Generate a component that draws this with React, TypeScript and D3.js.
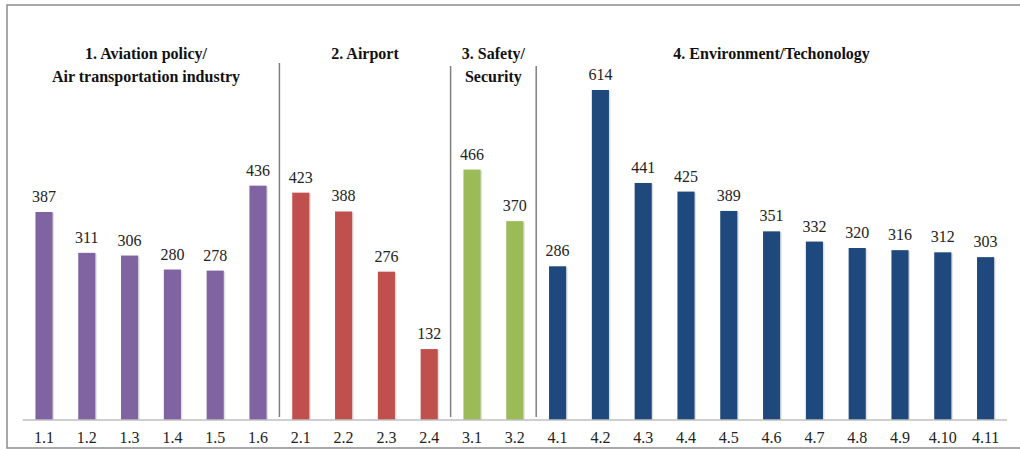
import React from "react";
import * as d3 from "d3";

const categories = [
  "1.1", "1.2", "1.3", "1.4", "1.5", "1.6",
  "2.1", "2.2", "2.3", "2.4",
  "3.1", "3.2",
  "4.1", "4.2", "4.3", "4.4", "4.5", "4.6", "4.7", "4.8", "4.9", "4.10", "4.11",
];
const values = [
  387, 311, 306, 280, 278, 436,
  423, 388, 276, 132,
  466, 370,
  286, 614, 441, 425, 389, 351, 332, 320, 316, 312, 303,
];
const groupTitles = [
  ["1. Aviation policy/", "Air transportation industry"],
  ["2. Airport"],
  ["3. Safety/", "Security"],
  ["4. Environment/Techonology"],
];
const groupColors = ["#8064A2", "#C0504D", "#9BBB59", "#1F497D"];

const W = 1020, H = 450;
const baseY = 420;
const font = "Liberation Serif, Times New Roman, DejaVu Serif, serif";

export default function App() {
  const x = d3.scaleBand<string>()
    .domain(categories)
    .range([22.6, 1007])
    .paddingInner(0.6)
    .paddingOuter(0.3);

  const y = d3.scaleLinear().domain([0, 614]).range([baseY, 90]);

  const groupOf = (c: string) => +c.split(".")[0] - 1;
  const step = x.step();
  const bandLeft = (c: string) => x(c)! - step * x.paddingInner() / 2;

  // group extents from first/last category in each group
  const groups = groupTitles.map((lines, gi) => {
    const cats = categories.filter(c => groupOf(c) === gi);
    const x0 = bandLeft(cats[0]);
    const x1 = bandLeft(cats[cats.length - 1]) + step;
    return { lines, x0, x1, cx: (x0 + x1) / 2 };
  });

  return (
    <svg width={W} height={H} style={{ position: "absolute", left: 0, top: 0, background: "#fff", fontFamily: font }}>
      <rect x={7} y={5} width={1030} height={443} fill="none" stroke="#8c8c8c" strokeWidth={1.5} />

      {groups.slice(1).map((g, i) => (
        <line key={"sep" + i} x1={g.x0} x2={g.x0} y1={i === 0 ? 63 : 66} y2={417}
          stroke="#808080" strokeWidth={1.5} />
      ))}

      {groups.map((g, i) => (
        <text key={"gt" + i} x={g.cx - (i === 0 ? 5 : 0)} y={59} textAnchor="middle"
          fontWeight="bold" fontSize={16} fill="#111">
          {g.lines.map((l, j) => (
            <tspan key={j} x={g.cx - (i === 0 ? 5 : 0)} dy={j === 0 ? 0 : 23}>{l}</tspan>
          ))}
        </text>
      ))}

      {categories.map((c, i) => (
        <g key={c}>
          <rect x={x(c)! + 1.5} y={y(values[i]) + 1} width={x.bandwidth()} height={baseY - y(values[i]) - 1}
            fill="#000" opacity={0.12} />
          <rect x={x(c)} y={y(values[i])} width={x.bandwidth()} height={baseY - y(values[i])}
            fill={groupColors[groupOf(c)]} />
          <text x={x(c)! + x.bandwidth() / 2} y={y(values[i]) - 10} textAnchor="middle"
            fontSize={16} fill="#222">{values[i]}</text>
          <text x={x(c)! + x.bandwidth() / 2} y={443} textAnchor="middle"
            fontSize={16} fill="#222">{c}</text>
        </g>
      ))}

      <line x1={22.6} x2={1007} y1={baseY} y2={baseY} stroke="#bfbfbf" strokeWidth={1.5} />
    </svg>
  );
}
